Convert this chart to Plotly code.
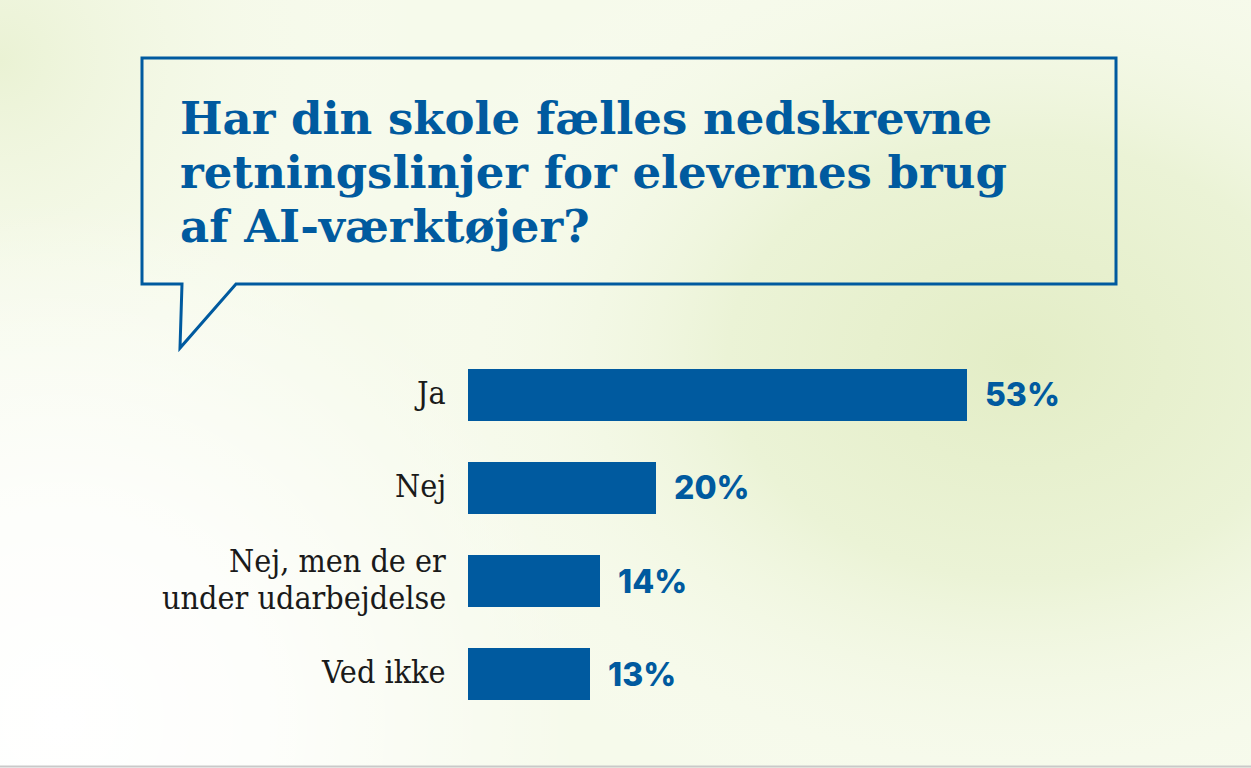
import base64
import plotly.graph_objects as go

# ---- data ----
categories = ["Ja", "Nej", "Nej, men de er<br>under udarbejdelse", "Ved ikke"]
values = [53, 20, 14, 13]
value_labels = ["53%", "20%", "14%", "13%"]
title_lines = ["Har din skole fælles nedskrevne",
               "retningslinjer for elevernes brug",
               "af AI-værktøjer?"]

W, H = 1251, 768
BLUE = "#005a9f"

def px(x):
    return x / W

def py(y):
    return 1 - y / H

# plot area in pixels
x0_px, x_unit = 468, 9.415
x_max = 60
x1_px = x0_px + x_max * x_unit
y_top, y_bot = 347.5, 719.5

# background gradient as svg
svg = f'''<svg xmlns="http://www.w3.org/2000/svg" width="{W}" height="{H}" viewBox="0 0 {W} {H}">
<defs>
<radialGradient id="g1" cx="1020" cy="360" r="650" gradientUnits="userSpaceOnUse" gradientTransform="translate(1020 360) scale(1 0.75) translate(-1020 -360)">
<stop offset="0" stop-color="#e3edc6"/>
<stop offset="0.45" stop-color="#ebf3d6"/>
<stop offset="1" stop-color="#fbfdf4" stop-opacity="0"/>
</radialGradient>
<radialGradient id="g2" cx="0" cy="60" r="420" gradientUnits="userSpaceOnUse">
<stop offset="0" stop-color="#eaf2d4"/>
<stop offset="1" stop-color="#fbfdf4" stop-opacity="0"/>
</radialGradient>
<radialGradient id="g3" cx="60" cy="720" r="520" gradientUnits="userSpaceOnUse">
<stop offset="0" stop-color="#ffffff"/>
<stop offset="0.4" stop-color="#ffffff" stop-opacity="0.8"/>
<stop offset="1" stop-color="#ffffff" stop-opacity="0"/>
</radialGradient>
</defs>
<rect width="{W}" height="{H}" fill="#f6faeb"/>
<rect width="{W}" height="{H}" fill="url(#g1)"/>
<rect width="{W}" height="{H}" fill="url(#g2)"/>
<rect width="{W}" height="{H}" fill="url(#g3)"/>
</svg>'''
bg_src = "data:image/svg+xml;base64," + base64.b64encode(svg.encode("utf-8")).decode("ascii")

LABEL_FONT = dict(family="DejaVu Serif Condensed, DejaVu Serif", size=32, color="#1a1a1a")

fig = go.Figure()
fig.add_trace(go.Bar(
    x=values,
    y=categories,
    orientation="h",
    marker=dict(color=BLUE, line=dict(width=0)),
    width=52 / 93,
    hoverinfo="skip",
))

annotations = []
for v, c, lab in zip(values, categories, value_labels):
    annotations.append(dict(
        x=v, y=c, xref="x", yref="y", text=lab, showarrow=False,
        xanchor="left", yanchor="middle", xshift=16, yshift=-1,
        font=dict(family="Inter", size=32, color=BLUE, weight=800),
    ))
    # category labels (right aligned, manual line spacing)
    parts = c.split("<br>")
    n = len(parts)
    for i, part in enumerate(parts):
        annotations.append(dict(
            x=px(448), y=c, xref="paper", yref="y", text=part, showarrow=False,
            xanchor="right", yanchor="middle",
            yshift=-((i - (n - 1) / 2) * 37) + 1,
            font=LABEL_FONT,
        ))

for i, line in enumerate(title_lines):
    annotations.append(dict(
        x=px(178), y=py(90 + i * 54), xref="paper", yref="paper",
        text=line, showarrow=False, xanchor="left", yanchor="top", align="left",
        font=dict(family="DejaVu Serif", size=45, color=BLUE, weight="bold"),
    ))

bubble = [(182, 284), (142, 284), (142, 58), (1116, 58), (1116, 284), (236, 284), (180, 348)]
path = "M " + " L ".join(f"{px(a):.5f},{py(b):.5f}" for a, b in bubble) + " Z"

shapes = [
    dict(type="path", xref="paper", yref="paper", path=path,
         line=dict(color=BLUE, width=3), fillcolor="rgba(0,0,0,0)", layer="above"),
    dict(type="line", xref="paper", yref="paper", x0=0, x1=1, y0=py(766.5), y1=py(766.5),
         line=dict(color="#c9c9c9", width=2)),
]

fig.update_layout(
    width=W, height=H,
    margin=dict(l=0, r=0, t=0, b=0),
    paper_bgcolor="#f7faec",
    plot_bgcolor="rgba(0,0,0,0)",
    showlegend=False,
    bargap=0,
    xaxis=dict(domain=[px(x0_px), px(x1_px)], range=[0, x_max], visible=False, fixedrange=True),
    yaxis=dict(
        domain=[py(y_bot), py(y_top)],
        autorange="reversed",
        showgrid=False, zeroline=False, showline=False, ticks="",
        showticklabels=False,
        automargin=False, fixedrange=True,
    ),
    annotations=annotations,
    shapes=shapes,
    images=[dict(source=bg_src, xref="paper", yref="paper", x=0, y=1, sizex=1, sizey=1,
                 xanchor="left", yanchor="top", sizing="stretch", layer="below")],
)

fig.write_html("out.html", config={"displayModeBar": False},
               post_script="document.body.style.margin='0';document.body.style.overflow='hidden';")
